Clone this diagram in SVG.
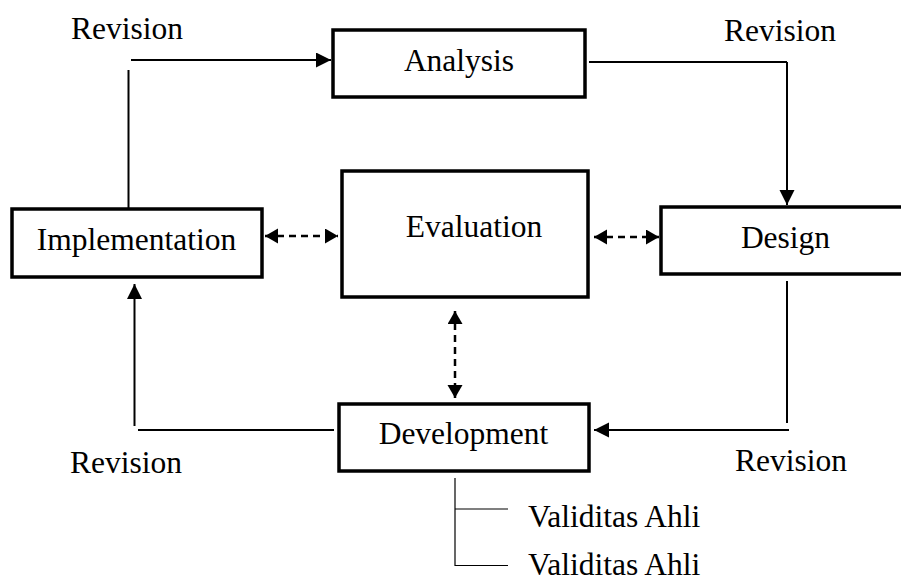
<svg xmlns="http://www.w3.org/2000/svg" width="901" height="582" viewBox="0 0 901 582">
<style>
  .box { fill: #fff; stroke: #000; stroke-width: 3.5; }
  text { font-family: 'Liberation Serif', 'DejaVu Serif', serif; font-size: 31.5px; fill: #000; }
  .mid { text-anchor: middle; }
  .ln { stroke: #000; stroke-width: 2; fill: none; }
  .dash { stroke: #000; stroke-width: 2.5; fill: none; stroke-dasharray: 7 5; }
  .thin { stroke: #000; stroke-width: 1.2; fill: none; }
</style>
<defs>
  <marker id="arr" markerUnits="userSpaceOnUse" markerWidth="16" markerHeight="16" refX="15" refY="7.5" orient="auto-start-reverse">
    <path d="M0,0 L15,7.5 L0,15 Z" fill="#000"/>
  </marker>
  <marker id="arrs" markerUnits="userSpaceOnUse" markerWidth="14" markerHeight="16" refX="13" refY="7.5" orient="auto-start-reverse">
    <path d="M0,0 L13,7.5 L0,15 Z" fill="#000"/>
  </marker>
</defs>
<rect width="901" height="582" fill="#fff"/>
<g id="connectors">
  <line class="ln" x1="128.5" y1="214" x2="128.5" y2="70"/>
  <line class="ln" x1="131" y1="60" x2="331" y2="60" marker-end="url(#arr)"/>
  <line class="ln" x1="589" y1="62" x2="787" y2="62"/>
  <line class="ln" x1="787" y1="62" x2="787" y2="205" marker-end="url(#arr)"/>
  <line class="ln" x1="787" y1="281" x2="787" y2="423"/>
  <line class="ln" x1="789" y1="430" x2="594" y2="430" marker-end="url(#arr)"/>
  <line class="ln" x1="334" y1="430" x2="138" y2="430"/>
  <line class="ln" x1="134.5" y1="426" x2="134.5" y2="284" marker-end="url(#arr)"/>
  <line class="dash" x1="265" y1="236" x2="338" y2="236" marker-start="url(#arrs)" marker-end="url(#arrs)"/>
  <line class="dash" x1="594" y1="237" x2="659" y2="237" marker-start="url(#arrs)" marker-end="url(#arrs)"/>
  <line class="dash" x1="455" y1="311" x2="455" y2="398" marker-start="url(#arrs)" marker-end="url(#arrs)"/>
  <line class="thin" x1="455" y1="478" x2="455" y2="566"/>
  <line class="thin" x1="455" y1="509" x2="508" y2="509"/>
  <line class="thin" x1="455" y1="565.5" x2="508" y2="565.5"/>
</g>
<g id="analysis">
  <rect class="box" x="333" y="30" width="252" height="67"/>
  <text class="mid" x="459" y="71" font-family="Liberation Serif, serif">Analysis</text>
</g>
<g id="design">
  <rect class="box" x="661" y="207" width="260" height="67"/>
  <text class="mid" x="785.5" y="248" font-family="Liberation Serif, serif">Design</text>
</g>
<g id="implementation">
  <rect class="box" x="12" y="209" width="250" height="68"/>
  <text class="mid" x="136.5" y="250" font-family="Liberation Serif, serif">Implementation</text>
</g>
<g id="evaluation">
  <rect class="box" x="342" y="171" width="246" height="126"/>
  <text class="mid" x="474" y="237" font-family="Liberation Serif, serif">Evaluation</text>
</g>
<g id="development">
  <rect class="box" x="339" y="404" width="250" height="67"/>
  <text class="mid" x="463.5" y="444" font-family="Liberation Serif, serif">Development</text>
</g>
<g id="labels" font-family="Liberation Serif, serif">
  <text x="71" y="39">Revision</text>
  <text x="724" y="41">Revision</text>
  <text x="70" y="472.5">Revision</text>
  <text x="735" y="471">Revision</text>
  <text x="528" y="526.5">Validitas Ahli</text>
  <text x="528" y="575">Validitas Ahli</text>
</g>
</svg>
